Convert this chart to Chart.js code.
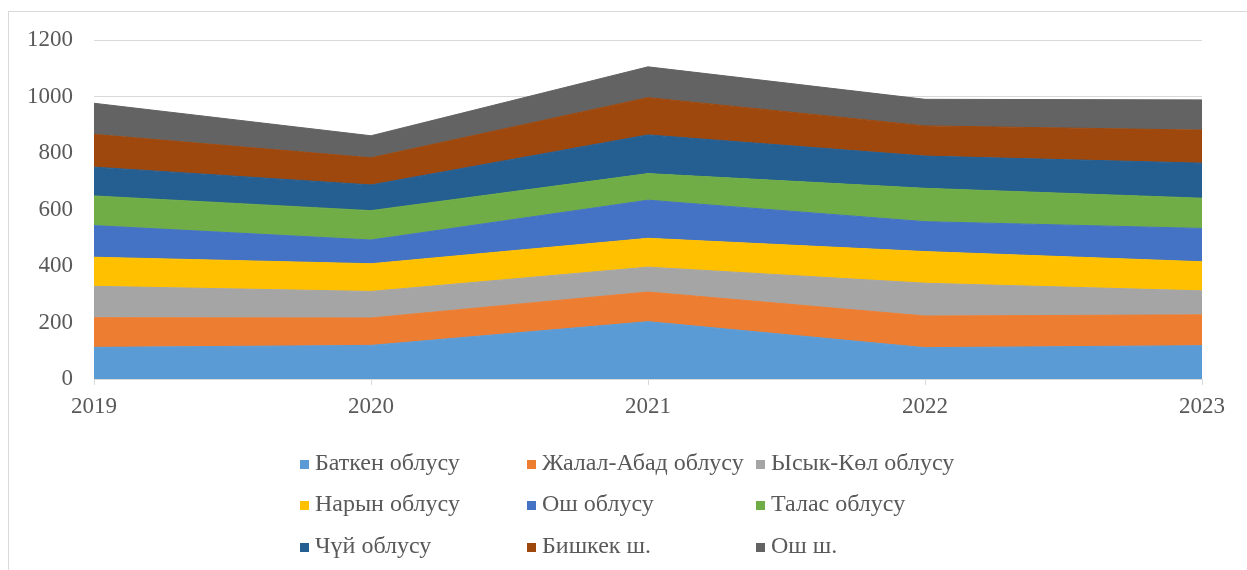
<!DOCTYPE html>
<html>
<head>
<meta charset="utf-8">
<script src="https://cdn.jsdelivr.net/npm/chart.js"></script>
<style>
  body { margin: 0; background: #fff; }
  #wrap { position: relative; width: 1247px; height: 570px; overflow: hidden; }
  #frame { position: absolute; left: 8px; top: 11px; width: 1260px; height: 580px; border: 1px solid #d9d9d9; }
  #box { position: absolute; left: 0; top: 0; width: 1247px; height: 430px; }
  #legend { position: absolute; left: 0; top: 0; width: 1247px; height: 570px; pointer-events: none; }
  .item { position: absolute; font-family: "Liberation Serif", "Times New Roman", serif; font-size: 24px; color: #595959; white-space: nowrap; line-height: 26px; }
  .item span.sw { display: inline-block; width: 9px; height: 9px; margin-right: 6px; vertical-align: 1px; }
</style>
</head>
<body>
<div id="wrap">
  <div id="frame"></div>
  <div id="box"><canvas id="chart"></canvas></div>
  <div id="legend"></div>
</div>
<script>
const years = ["2019", "2020", "2021", "2022", "2023"];
const regions = ["Баткен облусу", "Жалал-Абад облусу", "Ысык-Көл облусу", "Нарын облусу", "Ош облусу", "Талас облусу", "Чүй облусу", "Бишкек ш.", "Ош ш."];
const batken = [112, 119, 203, 111, 118];
const jalalAbad = [105, 97, 105, 112, 109];
const issykKul = [111, 94, 88, 116, 85];
const naryn = [103, 98, 102, 112, 103];
const osh = [112, 84, 135, 106, 118];
const talas = [105, 104, 94, 118, 107];
const chuy = [102, 91, 137, 114, 124];
const bishkek = [116, 96, 132, 107, 117];
const oshCity = [110, 78, 109, 94, 107];
const yTicks = [0, 200, 400, 600, 800, 1000, 1200];

const seriesValues = [batken, jalalAbad, issykKul, naryn, osh, talas, chuy, bishkek, oshCity];
const colors = ["#5B9BD5", "#ED7D31", "#A5A5A5", "#FFC000", "#4472C4", "#70AD47", "#255E91", "#9E480E", "#636363"];

const datasets = seriesValues.map((vals, i) => ({
  label: regions[i],
  data: vals,
  backgroundColor: colors[i],
  borderColor: colors[i],
  borderWidth: 1,
  pointRadius: 0,
  tension: 0,
  fill: i === 0 ? "origin" : "-1"
}));

const font = { family: "'Liberation Serif', 'Times New Roman', serif", size: 23 };

const myChart = new Chart("chart", {
  type: "line",
  data: { labels: years, datasets: datasets },
  options: {
    responsive: true,
    maintainAspectRatio: false,
    animation: false,
    layout: { padding: { left: 0, right: 45, top: 40, bottom: 0 } },
    plugins: { legend: { display: false }, tooltip: { enabled: false } },
    scales: {
      x: {
        offset: false,
        grid: { drawOnChartArea: false, drawTicks: true, tickLength: 6, color: "#d9d9d9" },
        border: { display: true, color: "#d9d9d9", width: 1 },
        ticks: { color: "#595959", font: font, padding: 8, maxRotation: 0 },
        afterFit: (s) => { s.height = 51; }
      },
      y: {
        stacked: true,
        min: 0,
        max: 1200,
        afterBuildTicks: (s) => { s.ticks = yTicks.map(v => ({ value: v })); },
        grid: { color: "#d9d9d9", drawTicks: false },
        border: { display: false },
        ticks: { color: "#595959", font: font, padding: 21, callback: (v) => String(v) },
        afterFit: (s) => { s.width = 94; }
      }
    }
  }
});

// legend in three columns, like the original
const legend = document.getElementById("legend");
const colX = [300, 527, 756];
const rowY = [449, 490, 532];
regions.forEach((name, i) => {
  const d = document.createElement("div");
  d.className = "item";
  d.style.left = colX[i % 3] + "px";
  d.style.top = rowY[Math.floor(i / 3)] + "px";
  d.innerHTML = '<span class="sw" style="background:' + colors[i] + '"></span>' + name;
  legend.appendChild(d);
});
</script>
</body>
</html>
